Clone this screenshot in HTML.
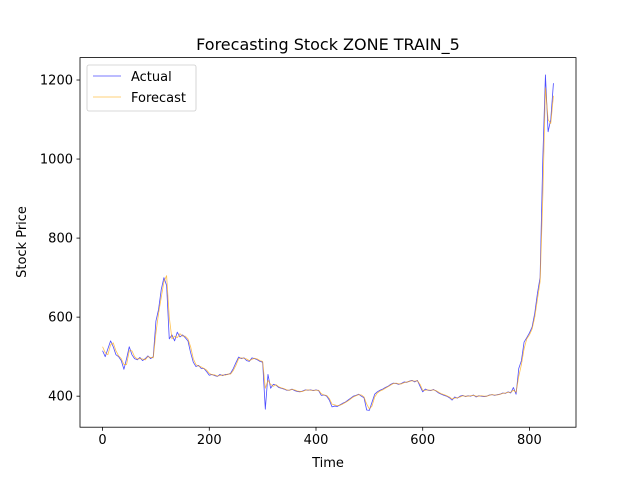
<!DOCTYPE html>
<html><head><meta charset="utf-8"><style>
body{margin:0;background:#fff}
svg{display:block;font-family:"DejaVu Sans","Liberation Sans",sans-serif}
</style></head><body>
<svg id="chart" width="640" height="480" viewBox="0 0 640 480">
<rect width="640" height="480" fill="#fff"/>
<text x="328" y="50" text-anchor="middle" font-size="16">Forecasting Stock ZONE TRAIN_5</text>
<g id="plot"></g>
<rect x="80" y="57.6" width="496" height="369.6" fill="none" stroke="#000" stroke-width="0.8"/>
<g id="xticks"></g>
<g id="yticks"></g>
<text x="328" y="467" text-anchor="middle" font-size="13">Time</text>
<text x="26" y="242" text-anchor="middle" font-size="13" transform="rotate(-90 26 242)">Stock Price</text>
<g>
<rect x="87" y="65" width="109" height="46" rx="2" fill="#fff" fill-opacity="0.8" stroke="#ccc" stroke-width="0.8"/>
<line x1="93" y1="76" x2="121" y2="76" stroke="#0000ff" stroke-opacity="0.7" stroke-width="0.8"/>
<text x="131" y="81" font-size="13">Actual</text>
<line x1="93" y1="97" x2="121" y2="97" stroke="#ffa500" stroke-opacity="0.7" stroke-width="0.8"/>
<text x="131" y="102" font-size="13">Forecast</text>
</g>
</svg>
<script>
const timeStep = 5;
const actual = [515,500,520,540,525,505,500,490,468,495,525,505,495,492,498,490,495,502,495,500,590,620,670,700,680,545,555,540,562,550,555,548,540,510,486,475,478,470,470,462,453,455,452,450,455,452,455,455,458,470,485,499,495,497,490,488,497,495,492,488,486,367,455,420,430,428,422,420,418,415,415,418,414,412,411,413,416,415,416,414,416,414,402,403,400,390,373,375,374,378,382,385,390,395,400,402,405,400,396,365,364,385,405,411,415,418,422,425,430,433,432,430,432,436,435,438,440,436,440,425,411,418,415,414,417,413,408,405,402,400,396,390,398,395,400,402,399,401,400,403,398,401,400,399,400,403,404,402,404,405,408,407,411,408,422,405,470,490,537,548,560,575,610,660,700,997,1213,1069,1100,1192];
const forecast = [525,510,505,530,535,515,502,495,480,480,515,515,500,494,495,494,492,500,498,497,560,610,650,690,705,600,545,552,548,558,552,552,545,525,495,480,476,474,470,466,458,454,454,451,452,454,453,456,456,465,478,495,497,496,494,490,493,496,494,490,488,420,440,430,425,429,424,421,419,416,415,417,416,413,412,412,415,416,415,415,415,415,406,403,402,394,380,378,376,377,380,384,388,393,398,401,404,403,398,380,368,375,398,408,413,416,420,424,428,432,433,431,431,434,436,437,439,438,439,430,415,415,416,415,416,414,410,406,404,401,398,393,395,396,398,401,400,400,401,402,400,400,401,400,400,402,404,403,403,405,407,408,410,410,415,410,450,480,520,545,555,570,600,645,690,900,1180,1100,1090,1160];
const yTickValues = [400,600,800,1000,1200];
const xTickValues = [0,200,400,600,800];

const X0=80, X1=576, Y0=57.6, Y1=427.2;
const xMin=-42.3, xMax=887.3, yMin=321.5, yMax=1256.7;
const xs = t => X0 + (t - xMin) / (xMax - xMin) * (X1 - X0);
const ys = v => Y1 - (v - yMin) / (yMax - yMin) * (Y1 - Y0);
const NS = "http://www.w3.org/2000/svg";
const plot = document.getElementById('plot');

function drawSeries(vals, color, name) {
  const p = document.createElementNS(NS, 'path');
  p.setAttribute('d', vals.map((v, i) => (i ? 'L' : 'M') + xs(i * timeStep).toFixed(2) + ' ' + ys(v).toFixed(2)).join(''));
  p.setAttribute('fill', 'none');
  p.setAttribute('stroke', color);
  p.setAttribute('stroke-opacity', '0.7');
  p.setAttribute('stroke-width', '0.8');
  p.setAttribute('stroke-linejoin', 'round');
  
  
  plot.appendChild(p);
}
drawSeries(actual, '#0000ff', 'actual-line');
drawSeries(forecast, '#ffa500', 'forecast-line');

const xg = document.getElementById('xticks');
xTickValues.forEach(v => {
  const x = xs(v);
  const l = document.createElementNS(NS, 'line');
  l.setAttribute('x1', x); l.setAttribute('x2', x);
  l.setAttribute('y1', Y1); l.setAttribute('y2', Y1 + 3.5);
  l.setAttribute('stroke', '#000'); l.setAttribute('stroke-width', '0.8');
  
  
  xg.appendChild(l);
  const t = document.createElementNS(NS, 'text');
  t.setAttribute('x', x); t.setAttribute('y', Y1 + 17);
  t.setAttribute('text-anchor', 'middle'); t.setAttribute('font-size', '13');
  
  
  t.textContent = v;
  xg.appendChild(t);
});
const yg = document.getElementById('yticks');
yTickValues.forEach(v => {
  const y = ys(v);
  const l = document.createElementNS(NS, 'line');
  l.setAttribute('x1', X0 - 3.5); l.setAttribute('x2', X0);
  l.setAttribute('y1', y); l.setAttribute('y2', y);
  l.setAttribute('stroke', '#000'); l.setAttribute('stroke-width', '0.8');
  
  
  yg.appendChild(l);
  const t = document.createElementNS(NS, 'text');
  t.setAttribute('x', X0 - 7); t.setAttribute('y', y + 4.5);
  t.setAttribute('text-anchor', 'end'); t.setAttribute('font-size', '13');
  
  
  t.textContent = v;
  yg.appendChild(t);
});
</script>
</body></html>
